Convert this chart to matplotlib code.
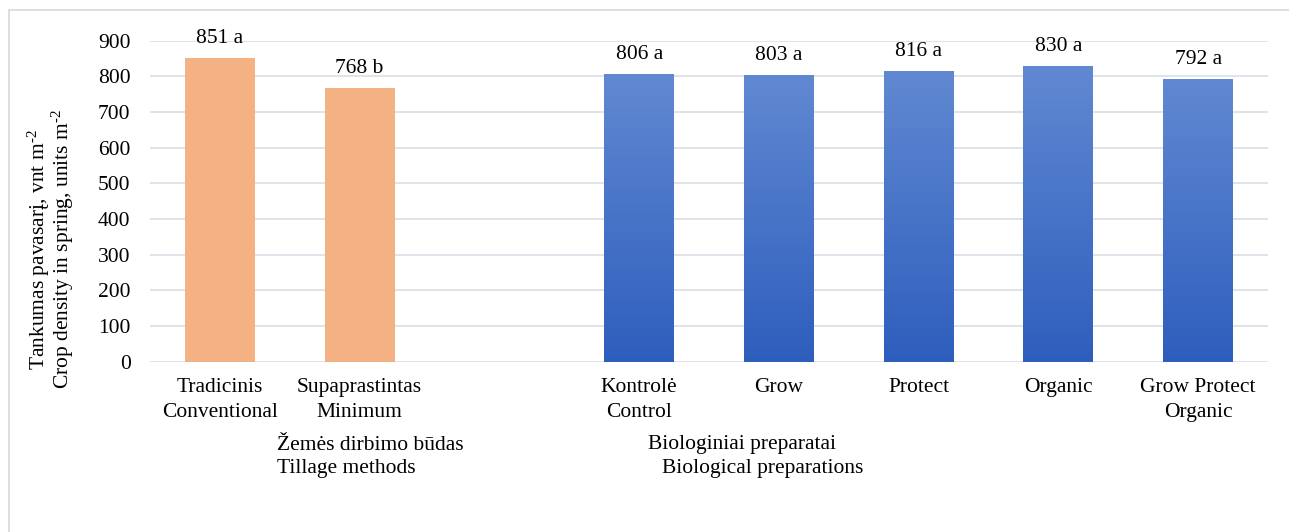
import numpy as np
import matplotlib.pyplot as plt
from matplotlib.colors import LinearSegmentedColormap
from matplotlib.lines import Line2D

plt.rcParams['font.family'] = ['Liberation Serif', 'DejaVu Serif']
plt.rcParams['mathtext.fontset'] = 'custom'
plt.rcParams['mathtext.rm'] = 'Liberation Serif'
plt.rcParams['mathtext.it'] = 'Liberation Serif:italic'

# tillage methods and biological preparations (slot 2 is left empty)
tillage_labels = ['Tradicinis\nConventional', 'Supaprastintas\nMinimum']
tillage_values = [851, 768]
tillage_letters = ['a', 'b']

bio_labels = ['Kontrolė\nControl', 'Grow', 'Protect', 'Organic', 'Grow Protect\nOrganic']
bio_values = [806, 803, 816, 830, 792]
bio_letters = ['a', 'a', 'a', 'a', 'a']

yticks = [0, 100, 200, 300, 400, 500, 600, 700, 800, 900]

fs = 15.5

fig = plt.figure(figsize=(12.89, 5.32), dpi=100)
ax = fig.add_axes([0.1164, 0.3201, 0.8673, 0.6034])

x_till = np.arange(len(tillage_values))
x_bio = np.arange(len(bio_values)) + len(tillage_values) + 1
width = 0.5

ax.bar(x_till, tillage_values, width, color='#F4B183', zorder=2)
bio_bars = ax.bar(x_bio, bio_values, width, color='#4A74C8', zorder=2)

# vertical blue gradient inside each bar
cmap = LinearSegmentedColormap.from_list('blu', ['#2E5EBD', '#6189D2'])
grad = np.linspace(0, 1, 256).reshape(-1, 1)
for b in bio_bars:
    x0, h = b.get_x(), b.get_height()
    im = ax.imshow(grad, cmap=cmap, origin='lower', aspect='auto',
                   extent=[x0, x0 + b.get_width(), 0, h], zorder=3)
    im.set_clip_path(b)

for x, v, l in zip(x_till, tillage_values, tillage_letters):
    ax.text(x, v + 28, f'{v} {l}', ha='center', va='bottom', fontsize=fs, zorder=4)
for x, v, l in zip(x_bio, bio_values, bio_letters):
    ax.text(x, v + 28, f'{v} {l}', ha='center', va='bottom', fontsize=fs, zorder=4)

ax.set_xlim(-0.5, 7.5)
ax.set_ylim(0, 900)
ax.set_yticks(yticks)
ax.set_xticks(list(x_till) + list(x_bio))
ax.set_xticklabels(tillage_labels + bio_labels, fontsize=fs, linespacing=1.4)
ax.tick_params(axis='y', labelsize=fs, length=0, pad=14)
ax.tick_params(axis='x', length=0, pad=12)
ax.grid(axis='y', color='#D9DEE6', linewidth=1.2, zorder=0)
for s in ax.spines.values():
    s.set_visible(False)

ax.set_ylabel('Tankumas pavasarį, vnt m$^{\\text{-2}}$\nCrop density in spring, units m$^{\\text{-2}}$',
              fontsize=fs, linespacing=0.9)
ax.yaxis.set_label_coords(-0.066, 0.35)

fig.text(277 / 1289, 1 - 445 / 532, 'Žemės dirbimo būdas', fontsize=fs, va='center')
fig.text(277 / 1289, 1 - 468 / 532, 'Tillage methods', fontsize=fs, va='center')
fig.text(648 / 1289, 1 - 445 / 532, 'Biologiniai preparatai', fontsize=fs, va='center')
fig.text(662 / 1289, 1 - 468 / 532, 'Biological preparations', fontsize=fs, va='center')

# light frame round the chart area
fig.add_artist(Line2D([9 / 1289, 1], [1 - 10 / 532] * 2, color='#D9D9D9', lw=1.2))
fig.add_artist(Line2D([9 / 1289] * 2, [0, 1 - 10 / 532], color='#D9D9D9', lw=1.2))

plt.savefig('out.png', dpi=100)
